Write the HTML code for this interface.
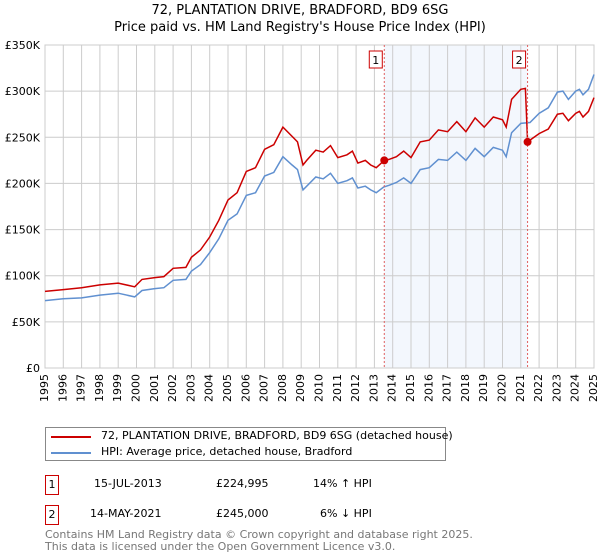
<!DOCTYPE html>
<html><head><meta charset="utf-8"><style>
body{margin:0;background:#fff;font-family:"DejaVu Sans","Liberation Sans",sans-serif;}
#wrap{position:relative;width:600px;height:560px;overflow:hidden}
.t{position:absolute;font-size:12px;color:#000;white-space:nowrap}
</style></head><body><div id="wrap">
<div class="t" style="left:0;width:600px;text-align:center;top:2px;font-size:13px;line-height:17px">72, PLANTATION DRIVE, BRADFORD, BD9 6SG<br>Price paid vs. HM Land Registry's House Price Index (HPI)</div>
<svg id="chart" width="600" height="420" style="position:absolute;left:0;top:0"></svg>
<div style="position:absolute;left:45px;top:427px;width:401px;height:34px;border:1px solid #888;box-sizing:border-box">
<div><div style="position:absolute;left:5px;top:8px;width:40px;height:2px;background:#cc0000"></div><div class="t" style="left:55px;top:1px;font-size:11px">72, PLANTATION DRIVE, BRADFORD, BD9 6SG (detached house)</div></div>
<div><div style="position:absolute;left:5px;top:24px;width:40px;height:2px;background:#6090d0"></div><div class="t" style="left:55px;top:17px;font-size:11px">HPI: Average price, detached house, Bradford</div></div>
</div>
<div>
<div class="t" style="left:45px;top:475px;width:14px;height:20px;border:1px solid #c00;box-sizing:border-box;text-align:center;font-size:11px;line-height:18px">1</div>
<div class="t" style="left:94px;top:477px;font-size:11px">15-JUL-2013</div>
<div class="t" style="left:216px;top:477px;font-size:11px">£224,995</div>
<div class="t" style="left:313px;top:477px;font-size:11px">14% ↑ HPI</div></div>
<div>
<div class="t" style="left:45px;top:505px;width:14px;height:20px;border:1px solid #c00;box-sizing:border-box;text-align:center;font-size:11px;line-height:18px">2</div>
<div class="t" style="left:90px;top:507px;font-size:11px">14-MAY-2021</div>
<div class="t" style="left:216px;top:507px;font-size:11px">£245,000</div>
<div class="t" style="left:320px;top:507px;font-size:11px">6% ↓ HPI</div></div>
<div class="t" style="left:45px;top:529px;font-size:11px;line-height:11.5px;color:#777">Contains HM Land Registry data © Crown copyright and database right 2025.<br>This data is licensed under the Open Government Licence v3.0.</div>
</div>
<script>
const hpiYears=[1995,1996,1997,1998,1999,1999.9,2000.3,2001,2001.5,2002,2002.7,2003,2003.5,2004,2004.5,2005,2005.5,2006,2006.5,2007,2007.5,2008,2008.5,2008.8,2009.1,2009.3,2009.8,2010.2,2010.6,2011,2011.5,2011.8,2012.1,2012.5,2012.8,2013.1,2013.5,2013.8,2014.2,2014.6,2015,2015.5,2016,2016.5,2017,2017.5,2018,2018.5,2019,2019.5,2020,2020.2,2020.5,2021,2021.5,2022,2022.5,2023,2023.3,2023.6,2024,2024.2,2024.4,2024.7,2025];
const hpiValues=[73,75,76,79,81,77,84,86,87,95,96,105,112,125,140,160,167,187,190,208,212,229,220,215,193,197,207,205,211,200,203,206,195,197,193,190,196,198,201,206,200,215,217,226,225,234,225,238,229,239,236,229,255,265,266,276,282,299,300,291,300,302,296,302,318];
const redYears=[1995,1996,1997,1998,1999,1999.9,2000.3,2001,2001.5,2002,2002.7,2003,2003.5,2004,2004.5,2005,2005.5,2006,2006.5,2007,2007.5,2008,2008.5,2008.8,2009.1,2009.3,2009.8,2010.2,2010.6,2011,2011.5,2011.8,2012.1,2012.5,2012.8,2013.1,2013.54,2013.8,2014.2,2014.6,2015,2015.5,2016,2016.5,2017,2017.5,2018,2018.5,2019,2019.5,2020,2020.2,2020.5,2021,2021.25,2021.37,2021.5,2022,2022.5,2023,2023.3,2023.6,2024,2024.2,2024.4,2024.7,2025];
const redValues=[83,85,87,90,92,88,96,98,99,108,109,120,128,142,160,182,190,213,217,237,242,261,251,245,220,225,236,234,241,228,231,235,222,225,220,217,225,226,229,235,228,245,247,258,256,267,256,271,261,272,269,261,291,302,303,245,247,254,259,275,276,268,276,278,272,278,293];
const saleYears=[2013.54,2021.37];
const saleValues=[224995,245000];
const saleLabels=["1","2"];
const yTicks=[0,50,100,150,200,250,300,350];
const yTickLabels=["£0","£50K","£100K","£150K","£200K","£250K","£300K","£350K"];
const xTicks=[1995,1996,1997,1998,1999,2000,2001,2002,2003,2004,2005,2006,2007,2008,2009,2010,2011,2012,2013,2014,2015,2016,2017,2018,2019,2020,2021,2022,2023,2024,2025];

const svg=document.getElementById('chart');const NS='http://www.w3.org/2000/svg';
const X0=45,X1=594,Y0=368,Y1=45;
const xs=y=>X0+(y-1995)/30*(X1-X0);
const ys=v=>Y0-v/350*(Y0-Y1);
function mk(t,a,p){const e=document.createElementNS(NS,t);for(const k in a)e.setAttribute(k,a[k]);(p||svg).appendChild(e);return e;}
let band=mk('rect',{x:xs(saleYears[0]),y:Y1,width:xs(saleYears[1])-xs(saleYears[0]),height:Y0-Y1,fill:'#eef3fc',opacity:0.7});


xTicks.forEach(t=>{let l=mk('line',{x1:xs(t),x2:xs(t),y1:Y1,y2:Y0,stroke:'#ccc'});


let tx=mk('text',{x:0,y:0,'font-size':11,'text-anchor':'end','dominant-baseline':'middle',transform:`translate(${xs(t)},${Y0+6}) rotate(-90)`,fill:'#000','font-family':'DejaVu Sans, Liberation Sans, sans-serif'});tx.textContent=t;

});
yTicks.forEach((t,i)=>{let l=mk('line',{x1:X0,x2:X1,y1:ys(t),y2:ys(t),stroke:'#ccc'});


let tx=mk('text',{x:X0-5,y:ys(t)+4,'font-size':11,'text-anchor':'end',fill:'#000','font-family':'DejaVu Sans, Liberation Sans, sans-serif'});tx.textContent=yTickLabels[i];

});
mk('rect',{x:X0,y:Y1,width:X1-X0,height:Y0-Y1,fill:'none',stroke:'#ccc'});
function line(xa,va,c,n){const d=xa.map((x,i)=>(i?'L':'M')+xs(x).toFixed(1)+','+ys(va[i]).toFixed(1)).join('');
const p=mk('path',{d:d,fill:'none',stroke:c,'stroke-width':1.5});

}
line(hpiYears,hpiValues,'#6090d0','hpi-line');
line(redYears,redValues,'#cc0000','property-price-line');
saleYears.forEach((s,i)=>{let l=mk('line',{x1:xs(s),x2:xs(s),y1:Y1,y2:Y0,stroke:'#e06060','stroke-dasharray':'2,2'});


let c=mk('circle',{cx:xs(s),cy:ys(saleValues[i]/1000),r:4,fill:'#cc0000'});


let g=mk('g',{});


mk('rect',{x:xs(s)-15,y:51,width:13,height:17,fill:'#fff',stroke:'#c00'},g);
let t=mk('text',{x:xs(s)-8.5,y:64,'font-size':11,'text-anchor':'middle','font-family':'DejaVu Sans, sans-serif'},g);t.textContent=saleLabels[i];});
</script></body></html>
